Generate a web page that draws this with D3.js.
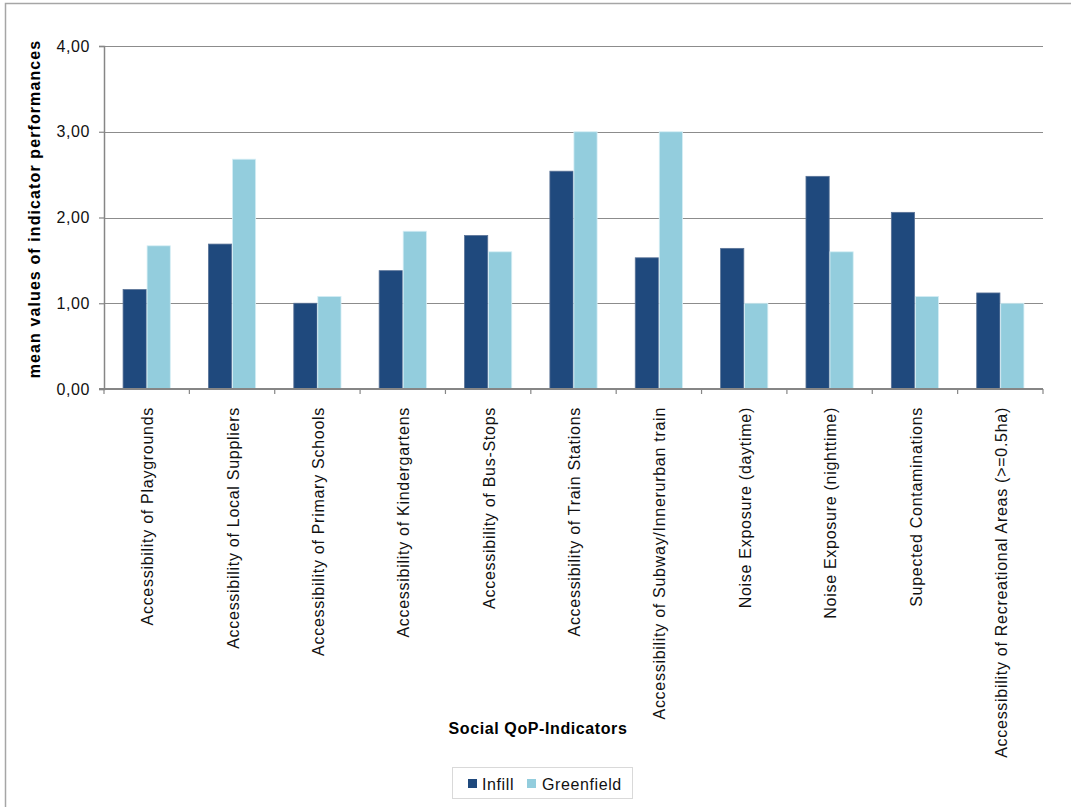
<!DOCTYPE html>
<html>
<head>
<meta charset="utf-8">
<script src="https://cdn.jsdelivr.net/npm/d3@7"></script>
<style>
  body { margin: 0; background: #fff; }
  svg { display: block; font-family: Arial, "Liberation Sans", sans-serif; }
</style>
</head>
<body>
<svg id="chart" width="1071" height="807"></svg>
<script>
const categories = [
  "Accessibility of Playgrounds",
  "Accessibility of Local Suppliers",
  "Accessibility of Primary Schools",
  "Accessibility of Kindergartens",
  "Accessibility of Bus-Stops",
  "Accessibility of Train Stations",
  "Accessibility of Subway/Innerurban train",
  "Noise Exposure (daytime)",
  "Noise Exposure (nighttime)",
  "Supected Contaminations",
  "Accessibility of Recreational Areas (>=0.5ha)"
];
const seriesNames = ["Infill", "Greenfield"];
const infill     = [1.16, 1.69, 1.00, 1.38, 1.79, 2.54, 1.53, 1.64, 2.48, 2.06, 1.12];
const greenfield = [1.67, 2.68, 1.08, 1.84, 1.60, 3.00, 3.00, 1.00, 1.60, 1.08, 1.00];
const yTicks = [0, 1, 2, 3, 4];
const yTitle = "mean values of indicator performances";
const xTitle = "Social QoP-Indicators";

(function () {
const colors = {Infill: "#1F497D", Greenfield: "#93CDDD"};
const strokes = {Infill: "#5a7397", Greenfield: "#d6eef5"};

const svg = d3.select("#chart");
const pLeft = 104, pRight = 1043, pTop = 46, pBottom = 389;

// outer border
svg.append("rect").attr("x", 5.5).attr("y", 3.5).attr("width", 1100).attr("height", 850)
  .attr("fill", "none").attr("stroke", "#a6a6a6").attr("stroke-width", 1.5);

const x0 = d3.scaleBand().domain(categories).range([pLeft, pRight])
  .paddingInner(0.4375).paddingOuter(0.21875);
const x1 = d3.scaleBand().domain(seriesNames).range([0, x0.bandwidth()]);
const y = d3.scaleLinear().domain([0, 4]).range([pBottom, pTop]);

// gridlines
svg.append("g").selectAll("line").data(yTicks.filter(d => d > 0)).join("line")
  .attr("x1", pLeft).attr("x2", pRight)
  .attr("y1", d => Math.round(y(d)) + 0.5).attr("y2", d => Math.round(y(d)) + 0.5)
  .attr("stroke", "#8c8c8c").attr("stroke-width", 1);

// bars
const data = categories.map((c, i) => ({cat: c, vals: [
  {s: "Infill", v: infill[i]}, {s: "Greenfield", v: greenfield[i]}]}));
const grp = svg.append("g").selectAll("g").data(data).join("g")
  .attr("transform", d => `translate(${x0(d.cat)},0)`);
grp.selectAll("rect").data(d => d.vals).join("rect")
  .attr("x", d => x1(d.s) + 0.4)
  .attr("width", x1.bandwidth() - 0.8)
  .attr("y", d => y(d.v))
  .attr("height", d => y(0) - y(d.v))
  .attr("fill", d => colors[d.s])
  .attr("stroke", d => strokes[d.s]).attr("stroke-width", 0.8);

// y axis
const yAxis = d3.axisLeft(y).tickValues(yTicks).tickSize(5).tickPadding(9)
  .tickFormat(d => d3.format(".2f")(d).replace(".", ","));
const ya = svg.append("g").attr("transform", `translate(${pLeft},0)`).call(yAxis);
ya.select(".domain").attr("stroke", "#868686").attr("stroke-width", 1.5);
ya.selectAll(".tick line").attr("stroke", "#868686").attr("stroke-width", 1.2);
ya.selectAll(".tick text").attr("font-size", 16).attr("fill", "#111")
  .style("font-family", "Arial, 'Liberation Sans', sans-serif").style("letter-spacing", "0.6px");

// x axis
const xa = svg.append("g").attr("transform", `translate(0,${pBottom})`);
xa.append("line").attr("x1", pLeft - 5).attr("x2", pRight).attr("y1", 0).attr("y2", 0)
  .attr("stroke", "#868686").attr("stroke-width", 2);
const step = x0.step();
xa.selectAll(".xt").data(d3.range(categories.length + 1)).join("line")
  .attr("class", "xt")
  .attr("x1", i => pLeft + i * step).attr("x2", i => pLeft + i * step)
  .attr("y1", 0).attr("y2", 5)
  .attr("stroke", "#868686").attr("stroke-width", 1.2);
xa.selectAll(".xl").data(categories).join("text")
  .attr("class", "xl")
  .attr("transform", d => `translate(${x0(d) + x0.bandwidth() / 2 + 1},18) rotate(-90)`)
  .attr("text-anchor", "end").attr("dy", "0.35em")
  .attr("font-size", 16).attr("fill", "#111").style("letter-spacing", "0.72px")
  .text(d => d);

// axis titles
svg.append("text")
  .attr("transform", `translate(40,209) rotate(-90)`)
  .attr("text-anchor", "middle").attr("font-size", 16).attr("font-weight", "bold")
  .style("letter-spacing", "1.1px").attr("fill", "#000")
  .text(yTitle);
svg.append("text").attr("x", 538).attr("y", 734)
  .attr("text-anchor", "middle").attr("font-size", 16).attr("font-weight", "bold")
  .style("letter-spacing", "0.6px").attr("fill", "#000")
  .text(xTitle);

// legend
const lg = svg.append("g");
lg.append("rect").attr("x", 452.5).attr("y", 767.5).attr("width", 180).attr("height", 31)
  .attr("fill", "#fff").attr("stroke", "#d9d9d9").attr("stroke-width", 1);
const items = [{s: "Infill", x: 468, tx: 482}, {s: "Greenfield", x: 527, tx: 542}];
items.forEach(it => {
  lg.append("rect").attr("x", it.x).attr("y", 779).attr("width", 9).attr("height", 9)
    .attr("fill", colors[it.s]);
  lg.append("text").attr("x", it.tx).attr("y", 790).attr("font-size", 16)
    .style("letter-spacing", "0.6px").attr("fill", "#111").text(it.s);
});
})();
</script>
</body>
</html>
